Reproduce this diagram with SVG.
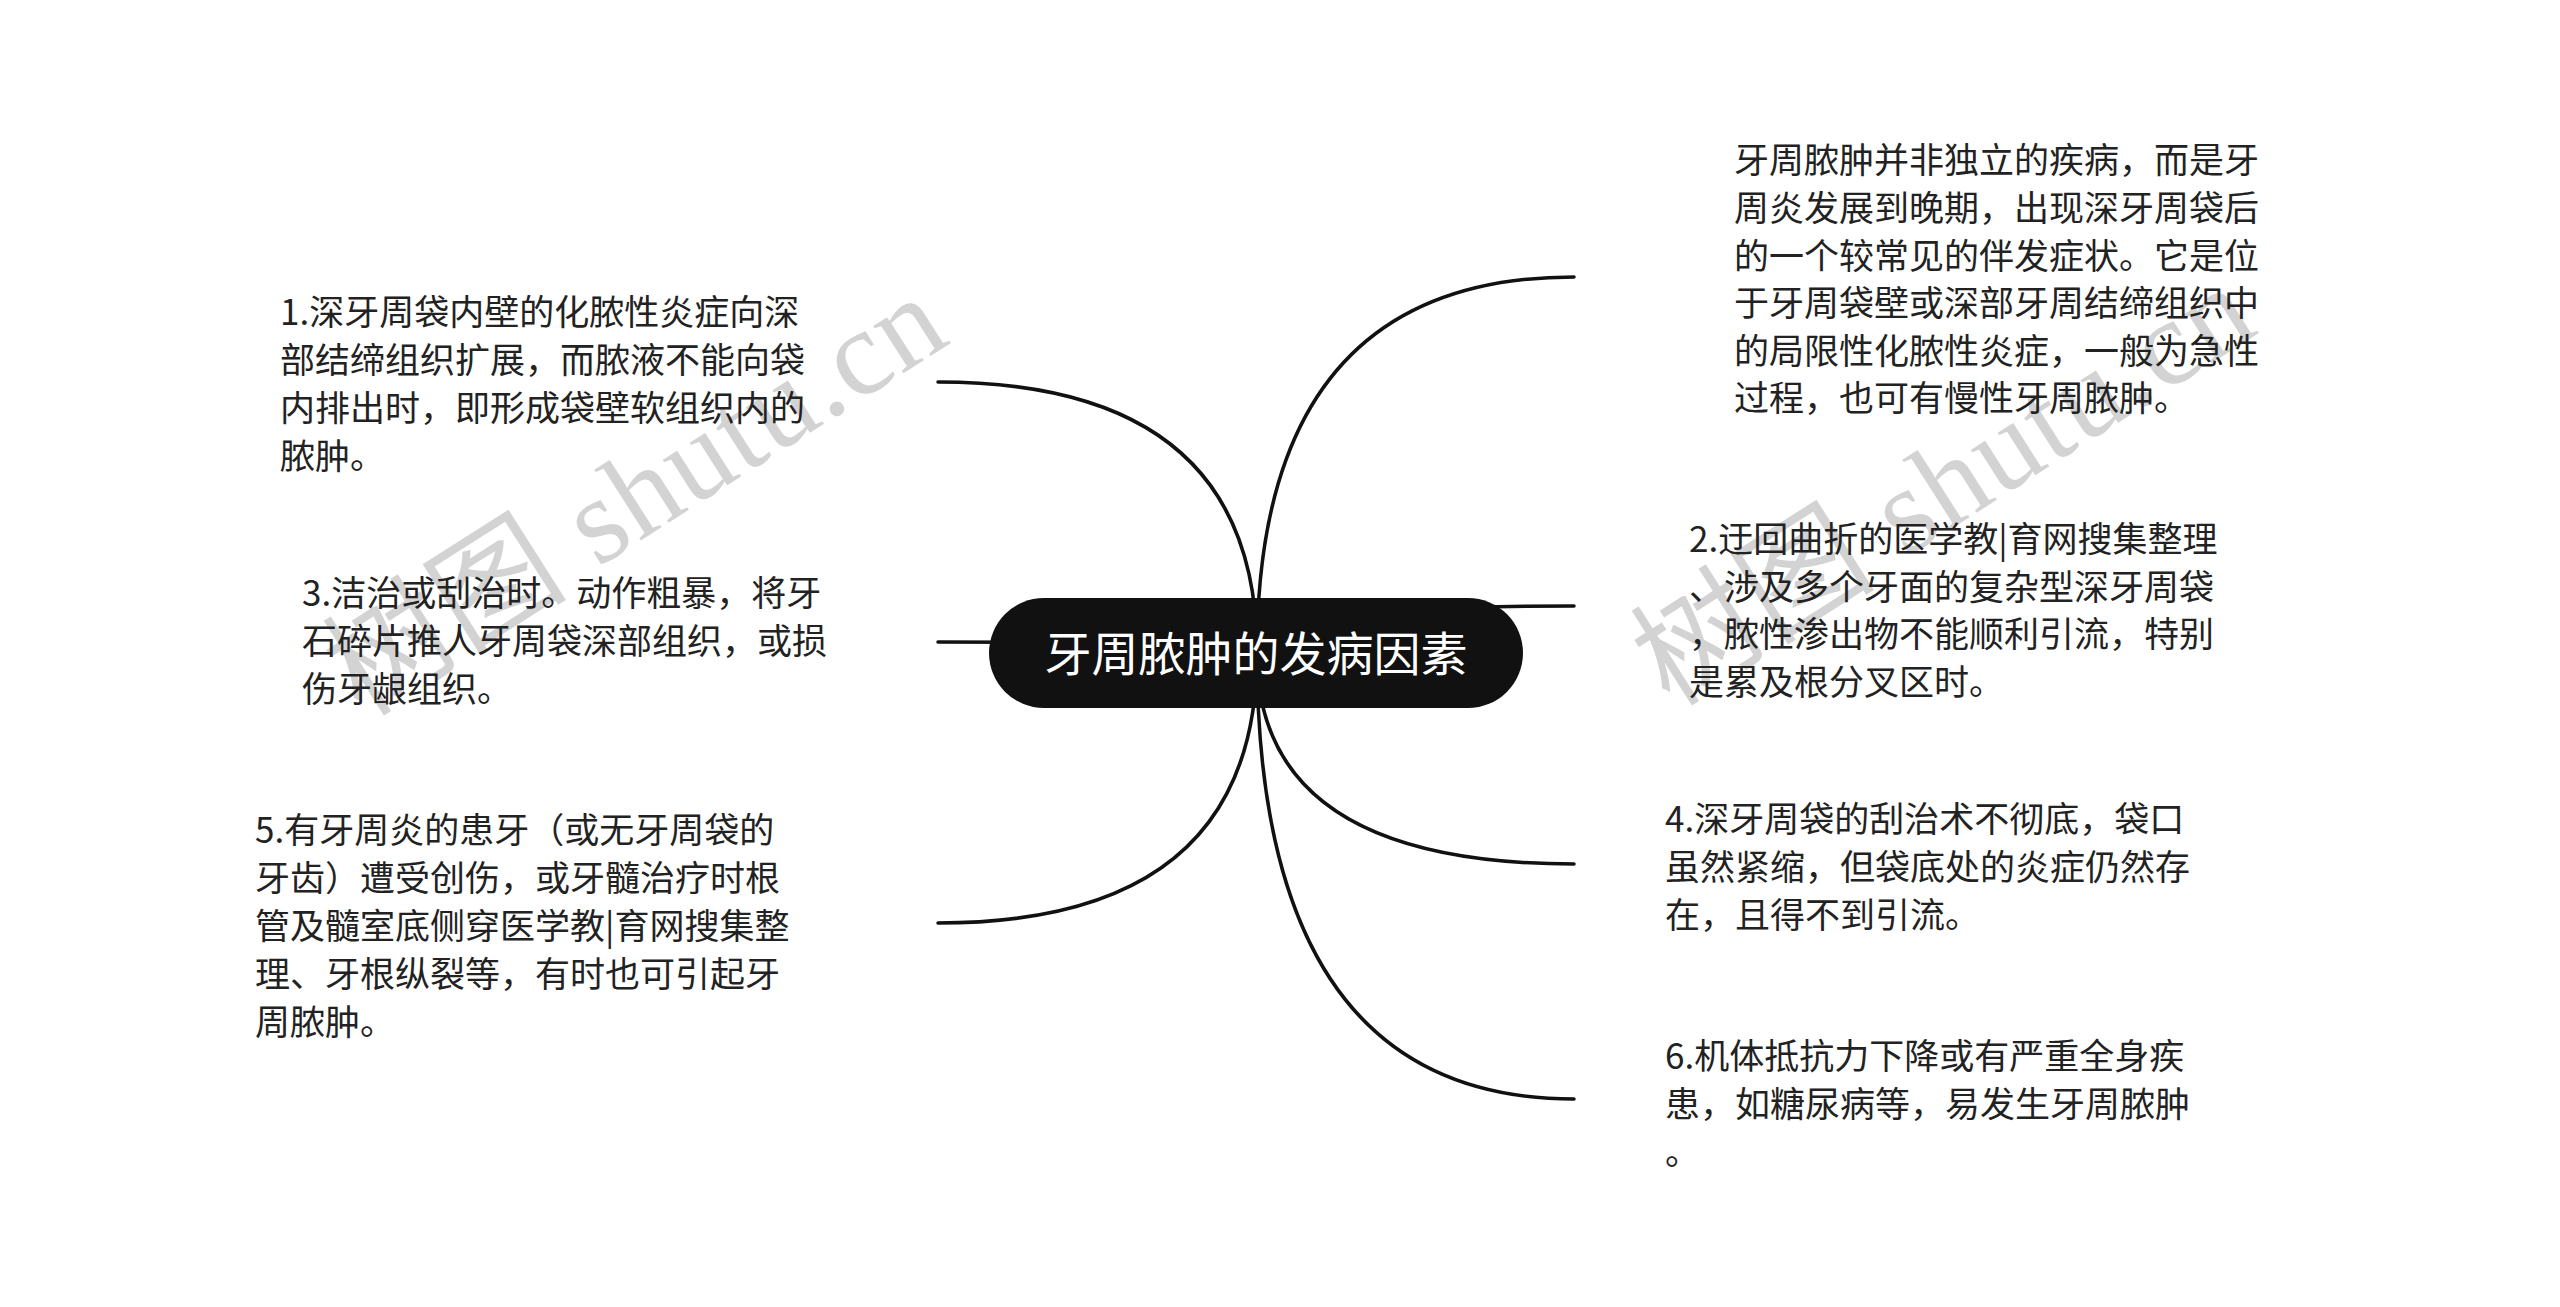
<svg xmlns="http://www.w3.org/2000/svg" width="2560" height="1307" viewBox="0 0 2560 1307">
<style>
.bg{fill:#ffffff}
.wm{font-family:"Liberation Serif","Noto Sans CJK SC",serif;font-size:122px;fill:#d3d3d3}
.edge{fill:none;stroke:#111111;stroke-width:3.5;stroke-linecap:round}
.root-box{fill:#111111}
.root-text{font-family:"Noto Sans CJK SC","Noto Sans",sans-serif;font-size:47px;fill:#ffffff;text-anchor:middle}
.t{font-family:"Noto Sans CJK SC","Noto Sans",sans-serif;font-size:35px;fill:#222222}
</style>
<rect class="bg" x="0" y="0" width="2560" height="1307"/>
<g id="watermarks">
<text class="wm" transform="translate(362 718) rotate(-32.5)" textLength="700" lengthAdjust="spacing">树图 shutu.cn</text>
<text class="wm" transform="translate(1670 708) rotate(-32.5)" textLength="700" lengthAdjust="spacing">树图 shutu.cn</text>
</g>
<g id="connectors">
<path class="edge" d="M1257 653 Q1257 382 938 382"/>
<path class="edge" d="M1257 653 Q1257 642 938 642"/>
<path class="edge" d="M1257 653 Q1257 923 938 923"/>
<path class="edge" d="M1257 653 Q1257 277 1574 277"/>
<path class="edge" d="M1257 653 Q1257 606 1574 606"/>
<path class="edge" d="M1257 653 Q1257 864 1574 864"/>
<path class="edge" d="M1257 653 Q1257 1099 1574 1099"/>
</g>
<g id="root">
<rect class="root-box" x="989" y="598" width="534" height="110" rx="55" ry="55"/>
<text class="root-text" x="1256" y="671">牙周脓肿的发病因素</text>
</g>
<g id="node-1">
<text class="t" x="280" y="325">1.深牙周袋内壁的化脓性炎症向深</text>
<text class="t" x="280" y="373">部结缔组织扩展，而脓液不能向袋</text>
<text class="t" x="280" y="421">内排出时，即形成袋壁软组织内的</text>
<text class="t" x="280" y="469">脓肿。</text>
</g>
<g id="node-3">
<text class="t" x="302" y="606">3.洁治或刮治时。动作粗暴，将牙</text>
<text class="t" x="302" y="654">石碎片推人牙周袋深部组织，或损</text>
<text class="t" x="302" y="702">伤牙龈组织。</text>
</g>
<g id="node-5">
<text class="t" x="255" y="843">5.有牙周炎的患牙（或无牙周袋的</text>
<text class="t" x="255" y="891">牙齿）遭受创伤，或牙髓治疗时根</text>
<text class="t" x="255" y="939">管及髓室底侧穿医学教|育网搜集整</text>
<text class="t" x="255" y="987">理、牙根纵裂等，有时也可引起牙</text>
<text class="t" x="255" y="1035">周脓肿。</text>
</g>
<g id="node-intro">
<text class="t" x="1734" y="173">牙周脓肿并非独立的疾病，而是牙</text>
<text class="t" x="1734" y="221">周炎发展到晚期，出现深牙周袋后</text>
<text class="t" x="1734" y="269">的一个较常见的伴发症状。它是位</text>
<text class="t" x="1734" y="316">于牙周袋壁或深部牙周结缔组织中</text>
<text class="t" x="1734" y="364">的局限性化脓性炎症，一般为急性</text>
<text class="t" x="1734" y="411">过程，也可有慢性牙周脓肿。</text>
</g>
<g id="node-2">
<text class="t" x="1689" y="552">2.迂回曲折的医学教|育网搜集整理</text>
<text class="t" x="1689" y="600">、涉及多个牙面的复杂型深牙周袋</text>
<text class="t" x="1689" y="647">，脓性渗出物不能顺利引流，特别</text>
<text class="t" x="1689" y="695">是累及根分叉区时。</text>
</g>
<g id="node-4">
<text class="t" x="1665" y="832">4.深牙周袋的刮治术不彻底，袋口</text>
<text class="t" x="1665" y="880">虽然紧缩，但袋底处的炎症仍然存</text>
<text class="t" x="1665" y="928">在，且得不到引流。</text>
</g>
<g id="node-6">
<text class="t" x="1665" y="1069">6.机体抵抗力下降或有严重全身疾</text>
<text class="t" x="1665" y="1117">患，如糖尿病等，易发生牙周脓肿</text>
<text class="t" x="1665" y="1165">。</text>
</g>
</svg>
